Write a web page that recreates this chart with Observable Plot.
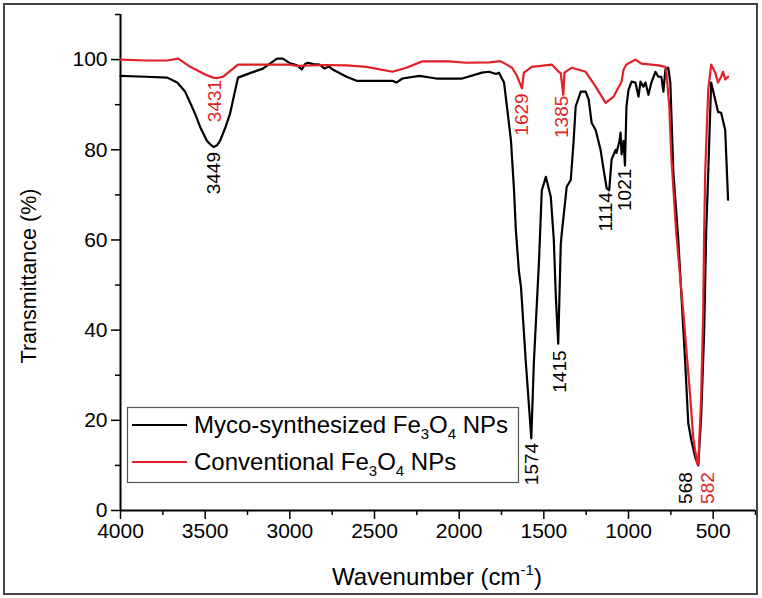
<!DOCTYPE html>
<html><head><meta charset="utf-8">
<script src="https://cdn.jsdelivr.net/npm/d3@7"></script>
<script src="https://cdn.jsdelivr.net/npm/@observablehq/plot@0.6"></script>
<style>
body{margin:0;background:#fff;}
#wrap{position:relative;width:762px;height:598px;}
#frame{position:absolute;left:3px;top:3px;width:755px;height:592px;border:2px solid #444;box-sizing:border-box;pointer-events:none;}
</style></head><body><div id="wrap"><div id="chart"></div><div id="frame"></div></div>
<script>
// Myco-synthesized Fe3O4 NPs (black)
const mycoWn = [4000,3850,3724,3665,3620,3588,3560,3529,3490,3470,3449,3430,3412,3380,3353,3330,3306,3235,3159,3076,3041,3000,2960,2929,2910,2894,2860,2824,2794,2770,2747,2665,2606,2500,2394,2371,2335,2235,2135,1982,1865,1824,1782,1765,1735,1718,1694,1676,1665,1647,1635,1606,1574,1559,1529,1512,1488,1459,1441,1429,1415,1400,1394,1371,1365,1341,1324,1312,1282,1253,1235,1218,1194,1165,1147,1129,1114,1100,1076,1071,1053,1047,1041,1029,1021,1012,1000,982,959,941,929,912,900,882,865,841,824,806,794,782,765,753,735,706,665,647,629,606,588,571,553,541,529,512,488,471,453,429,412];
const mycoT  = [96.4,96.2,96.0,94.9,93.0,90.4,88.0,85.0,82.0,81.2,80.6,81.0,82.0,85.0,88.0,92.0,96.0,97.0,98.0,100.2,100.2,99.2,98.8,97.8,99.0,99.3,99.0,98.9,98.0,98.5,97.8,96.2,95.3,95.3,95.3,94.9,95.8,96.4,95.8,95.8,97.1,97.3,96.8,97.1,94.9,89.6,82.0,71.0,62.0,53.0,49.6,32.7,16.0,32.7,55.0,71.0,74.0,69.6,60.0,47.3,37.0,59.0,61.5,69.6,71.8,73.3,82.0,89.6,92.9,92.9,91.1,86.0,84.4,80.0,75.6,71.5,71.0,77.8,80.0,79.3,82.0,83.8,79.0,82.0,76.5,89.6,93.3,95.1,94.9,91.8,95.1,94.0,94.9,92.2,94.9,97.3,96.2,96.2,92.9,97.8,98.2,94.9,74.9,60.0,32.7,19.3,15.6,11.8,10.0,20.7,40.0,62.0,75.0,94.9,91.1,88.4,88.2,84.4,68.9];
// Conventional Fe3O4 NPs (red)
const convWn = [4000,3850,3724,3659,3588,3500,3453,3431,3394,3306,3176,3000,2960,2800,2665,2547,2394,2312,2218,2059,1959,1824,1765,1753,1688,1660,1629,1618,1571,1453,1412,1400,1385,1378,1335,1253,1194,1135,1088,1041,1029,1012,959,924,865,824,782,776,759,747,718,676,635,618,594,588,571,559,553,547,529,512,488,471,453,441,429,412];
const convT  = [100.0,99.8,99.8,100.2,98.4,96.7,96.0,95.9,96.2,98.9,98.9,98.9,98.6,98.8,98.7,98.4,97.3,98.2,99.6,99.6,99.3,99.4,99.6,99.6,98.2,96.5,93.6,97.1,98.4,98.9,97.3,97.0,92.2,97.1,98.2,97.3,94.0,90.4,91.8,95.1,97.8,98.9,100.0,99.1,98.9,98.7,98.4,97.1,89.6,78.4,61.5,43.8,25.0,16.2,10.4,10.2,25.0,43.8,62.0,75.0,93.3,98.9,97.1,94.9,96.2,97.3,95.6,96.2];
// Peak annotations
const peakLabels = ["3449","3431","1629","1385","1574","1415","1114","1021","568","582"];
const peakSeries = ["myco","conv","conv","conv","myco","myco","myco","myco","myco","conv"];
const peakX = [3449,3445,1629,1392,1571,1406,1132,1022,659,529];
const peakY = [79.5,95.5,92.5,92.0,15.0,35.5,70.6,75.8,8.5,8.5];
// Axes ticks
const xMajor = [4000,3500,3000,2500,2000,1500,1000,500];
const xMinor = [3750,3250,2750,2250,1750,1250,750,250];
const yMajor = [0,20,40,60,80,100];
const yMinor = [10,30,50,70,90,110];
const seriesNames = ["Myco-synthesized Fe|3|O|4| NPs","Conventional Fe|3|O|4| NPs"];
const seriesColors = ["#000000","#e01f26"];

const FONT = "'Liberation Sans', Arial, sans-serif";
const myco = mycoWn.map((w,i)=>({wn:w,t:mycoT[i]}));
const conv = convWn.map((w,i)=>({wn:w,t:convT[i]}));
const peaks = peakLabels.map((l,i)=>({label:l,s:peakSeries[i],wn:peakX[i],t:peakY[i]}));

const svg = Plot.plot({
  width:762, height:598,
  marginLeft:120, marginRight:7, marginTop:14, marginBottom:88,
  style:{fontFamily:FONT, background:"transparent", color:"black"},
  x:{domain:[4000,250]},
  y:{domain:[0,110]},
  marks:[
    Plot.axisX({ticks:xMinor, tickSize:5, tickFormat:()=>"", strokeWidth:1.5, label:null}),
    Plot.axisX({ticks:xMajor, tickSize:9, tickPadding:4, fontSize:21, tickFormat:d=>String(d), strokeWidth:1.5, label:null}),
    Plot.axisY({ticks:yMinor, tickSize:5, tickFormat:()=>"", strokeWidth:1.5, label:null}),
    Plot.axisY({ticks:yMajor, tickSize:9, tickPadding:4, fontSize:21, tickFormat:d=>String(d), strokeWidth:1.5, label:null}),
    Plot.ruleY([0],{stroke:"black",strokeWidth:2}),
    Plot.ruleX([4000],{stroke:"black",strokeWidth:2}),
    Plot.line(myco,{x:"wn",y:"t",stroke:seriesColors[0],strokeWidth:2.2}),
    Plot.line(conv,{x:"wn",y:"t",stroke:seriesColors[1],strokeWidth:2.2}),
    Plot.text(peaks.filter(d=>d.s==="myco"),{x:"wn",y:"t",text:"label",rotate:-90,textAnchor:"end",fill:seriesColors[0],fontSize:19}),
    Plot.text(peaks.filter(d=>d.s==="conv"),{x:"wn",y:"t",text:"label",rotate:-90,textAnchor:"end",fill:seriesColors[1],fontSize:19})
  ]
});
document.getElementById("chart").appendChild(svg);

const s = d3.select(svg);
// Axis titles
const xt = s.append("text").attr("x",437).attr("y",585).attr("text-anchor","middle")
  .attr("font-size",24).attr("font-family",FONT).style("fill","#000");
xt.append("tspan").text("Wavenumber (cm");
xt.append("tspan").attr("font-size",15).attr("dy",-10).text("-1");
xt.append("tspan").attr("dy",10).text(")");
s.append("text").attr("transform","translate(36,276) rotate(-90)").attr("text-anchor","middle")
  .attr("font-size",21.5).attr("font-family",FONT).style("fill","#000").text("Transmittance (%)");

// Legend
const lg = s.append("g").attr("font-family",FONT).attr("text-anchor","start");
lg.append("rect").attr("x",127.5).attr("y",407.5).attr("width",391).attr("height",75)
  .attr("fill","white").attr("stroke","#555").attr("stroke-width",1.2);
seriesNames.forEach((name,i)=>{
  const yy = 425 + i*37;
  lg.append("line").attr("x1",132).attr("x2",187).attr("y1",yy).attr("y2",yy)
    .attr("stroke",seriesColors[i]).attr("stroke-width",2);
  const t = lg.append("text").attr("x",194).attr("y",yy+8).attr("font-size",24)
    .attr("text-anchor","start").style("fill","#000");
  name.split("|").forEach((part,j)=>{
    if (j%2===1) t.append("tspan").attr("font-size",15).attr("dy",6).text(part);
    else t.append("tspan").attr("dy", j>0 ? -6 : 0).text(part);
  });
});
</script></body></html>
